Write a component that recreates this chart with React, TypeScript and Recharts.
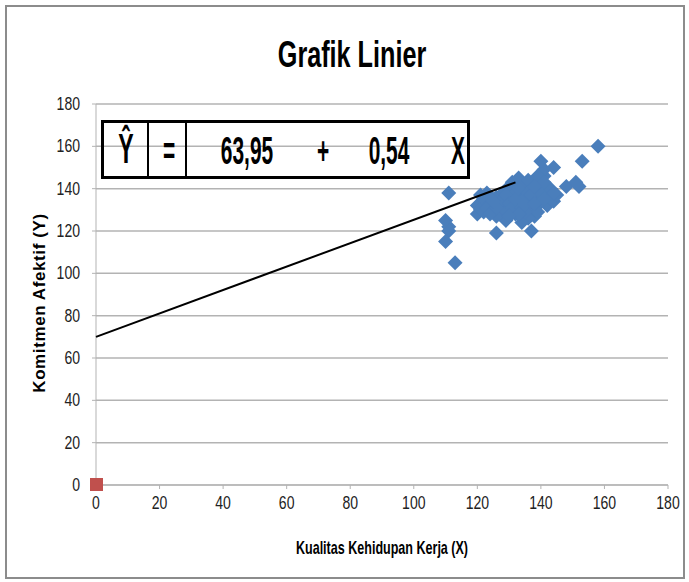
import React from 'react';
import { ScatterChart, Scatter, XAxis, YAxis, CartesianGrid } from 'recharts';

// observed points (Kualitas Kehidupan Kerja, Komitmen Afektif)
const obsX = [
  120, 120, 121, 122, 121, 123, 124, 125, 126, 127, 127, 128, 129, 130, 130, 131, 131, 132, 133, 133,
  134, 135, 135, 136, 137, 137, 138, 138, 139, 139, 140, 141, 141, 142, 142, 143, 144, 145, 141, 140,
  136, 134, 129, 125, 126, 132, 136, 139, 124, 128, 135,
  122, 123, 124, 126, 128, 129, 130, 131, 132, 133, 134, 135, 136, 137, 138, 140, 141, 143, 144, 133,
  130, 139, 141, 138, 125,
  111, 110, 111, 111, 110, 113, 126, 137, 140, 144, 153, 158, 148, 151, 152,
];
const obsY = [
  128, 132, 130, 135, 137, 138, 133, 130, 136, 132, 128, 138, 134, 130, 141, 136, 143, 128, 133, 145,
  139, 136, 142, 130, 134, 140, 127, 137, 132, 143, 135, 146, 138, 132, 141, 136, 134, 137, 149, 142,
  126, 124, 125, 129, 127, 138, 144, 129, 136, 131, 129,
  129, 131, 128, 131, 135, 137, 133, 131, 135, 140, 131, 133, 138, 137, 133, 138, 135, 140, 138, 128,
  127, 146, 143, 141, 134,
  138, 125, 122, 120, 115, 105, 119, 120, 153, 150, 153, 160, 141, 143, 141,
];
const origin = [{ x: 0, y: 0 }];
const lineX = [0, 132];
const lineY = [70, 143];
const xTicks = [0, 20, 40, 60, 80, 100, 120, 140, 160, 180];
const yTicks = [0, 20, 40, 60, 80, 100, 120, 140, 160, 180];
const equation = ['Ŷ', '=', '63,95', '+', '0,54', 'X'];

const points = obsX.map((x, i) => ({ x, y: obsY[i] }));
const lineData = lineX.map((x, i) => ({ x, y: lineY[i] }));

const FONT = '"Liberation Sans", Arial, sans-serif';

const Diamond = (props: any) => {
  const { cx, cy } = props;
  const r = 7.5;
  return <polygon points={`${cx},${cy - r} ${cx + r},${cy} ${cx},${cy + r} ${cx - r},${cy}`} fill="#4a7ebb" />;
};

const Square = (props: any) => {
  const { cx, cy } = props;
  return <rect x={cx - 6} y={cy - 7} width={13} height={13} fill="#c0504d" />;
};

const Nothing = () => <g />;

const NarrowTick = (props: any) => {
  const { x, y, payload, textAnchor, axis } = props;
  const dy = axis === 'x' ? 12 : 6;
  return (
    <text transform={`translate(${x},${y + dy}) scale(0.78,1)`} textAnchor={textAnchor}
      fontFamily={FONT} fontSize={18} fill="#222">{payload.value}</text>
  );
};

// centres of the equation pieces inside the box
const eqCentres = [22, 65, 143, 219, 285, 354];

const Narrow: React.FC<{ left: number; top: number; size: number; sx: number; bold?: boolean; children: React.ReactNode }> =
  ({ left, top, size, sx, bold = true, children }) => (
    <div style={{ position: 'absolute', left, top, transform: `translateX(-50%) scaleX(${sx})`, whiteSpace: 'nowrap',
      fontFamily: FONT, fontWeight: bold ? 'bold' : 'normal', fontSize: size, lineHeight: 1, color: '#000' }}>
      {children}
    </div>
  );

export default function App() {
  return (
    <div style={{ position: 'absolute', left: 0, top: 0, width: 689, height: 582, background: '#fff' }}>
      <div style={{ position: 'absolute', left: 5, top: 5, width: 676, height: 570, border: '2px solid #8c8c8c' }} />
      <Narrow left={352} top={37} size={36} sx={0.7}>Grafik Linier</Narrow>
      <ScatterChart width={689} height={582} margin={{ top: 104, right: 21, bottom: 67, left: 56 }}
        style={{ position: 'absolute', left: 0, top: 0 }}>
        <CartesianGrid vertical={false} stroke="#b3b3b3" strokeWidth={1.5} />
        <XAxis type="number" dataKey="x" domain={[0, 180]} ticks={xTicks} height={30}
          stroke="#b3b3b3" tickSize={4} tickMargin={8} tick={<NarrowTick axis="x" />} />
        <YAxis type="number" dataKey="y" domain={[0, 180]} ticks={yTicks} width={40}
          stroke="#b3b3b3" tickSize={4} tickMargin={12} tick={<NarrowTick axis="y" />} />
        <Scatter data={points} shape={<Diamond />} isAnimationActive={false} />
        <Scatter data={lineData} line={{ stroke: '#000', strokeWidth: 2 }} shape={<Nothing />} isAnimationActive={false} />
        <Scatter data={origin} shape={<Square />} isAnimationActive={false} />
      </ScatterChart>
      <div style={{ position: 'absolute', left: 40, top: 303, width: 0, height: 0 }}>
        <div style={{ position: 'absolute', left: 0, top: 0, transform: 'translate(-50%, -50%) rotate(-90deg)', whiteSpace: 'nowrap',
          fontFamily: FONT, fontWeight: 'bold', fontSize: 17, letterSpacing: 0.6 }}>
          Komitmen Afektif (Y)
        </div>
      </div>
      <Narrow left={382} top={538} size={19} sx={0.66}>Kualitas Kehidupan Kerja (X)</Narrow>
      <div style={{ position: 'absolute', left: 101, top: 120, width: 369, height: 59, border: '3px solid #000',
        boxSizing: 'border-box' }}>
        <div style={{ position: 'absolute', left: 43, top: 0, width: 2, height: '100%', background: '#000' }} />
        <div style={{ position: 'absolute', left: 81, top: 0, width: 2, height: '100%', background: '#000' }} />
        {equation.map((t, i) => (
          <Narrow key={i} left={eqCentres[i]} top={i === 0 ? 5 : 9} size={i === 0 ? 42 : 38} sx={0.55}>{t}</Narrow>
        ))}
      </div>
    </div>
  );
}
